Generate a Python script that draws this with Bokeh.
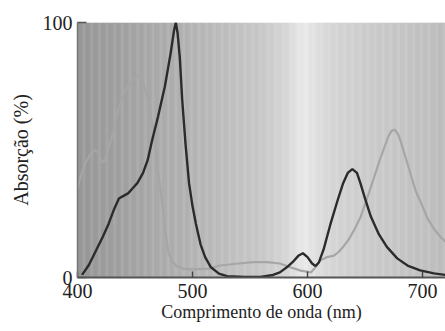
import numpy as np
from bokeh.plotting import figure
from bokeh.models import FixedTicker
from bokeh.embed import file_html
from bokeh.resources import INLINE

# ---- data ----
black_wl = [404, 410, 416, 422, 427, 432, 436, 440, 444, 448, 452, 457, 461, 465, 470, 476,
            481, 484, 485.5, 487, 489, 491, 494, 497, 500, 503, 507, 511, 516, 523, 530, 545,
            559, 570, 576, 582, 587, 592, 596, 600, 604, 607, 610, 614, 620, 626, 631, 635,
            639, 643, 646, 650, 655, 662, 669, 678, 687, 698, 710, 720]
black_abs = [1, 5, 10.5, 16, 21, 27, 31, 32, 33, 35, 37, 41, 46, 54, 63, 75,
             88, 97, 100, 96, 86, 70, 52, 37, 28, 21, 13, 8, 4, 1.5, 0.5, 0.2,
             0.2, 1, 2, 4, 6, 8.5, 9.5, 8, 5.5, 4.5, 6, 11, 21, 30, 37, 41,
             42.5, 41, 37, 31, 24, 17, 12, 7.5, 4.7, 2.8, 1.6, 1.0]

gray_wl = [400, 403, 407, 411, 415, 418, 421, 424, 428, 431, 435, 440, 445, 450, 453, 456,
           460, 463, 466, 468, 470, 472, 475, 477, 479, 482, 486, 492, 500, 514, 524, 540,
           553, 565, 576, 585, 594, 603, 607, 611, 617, 623, 627, 631, 636, 641, 646, 651,
           657, 662, 666, 670, 673, 676, 679, 682, 686, 690, 694, 699, 704, 710, 716, 720]
gray_abs = [35, 40, 45, 48, 50, 49, 45, 46, 52, 57, 65, 72, 76, 78.5, 79, 78,
            72, 65, 58, 50, 42, 35, 24, 16, 10, 6.5, 4.5, 3.5, 3.2, 3.5, 4.7, 5.5,
            6, 6, 5.5, 4, 2.7, 2, 4, 6.7, 8, 8.6, 10, 12, 15, 19, 23.5, 30,
            38, 45, 50, 55, 57.5, 58, 56, 52, 46, 40, 34, 29, 23.5, 19, 15.7, 14]

x_ticks = [400, 500, 600, 700]
y_ticks = [0, 100]

# ---- background gradient (decoration) ----
stop_wl = [400, 450, 490, 530, 560, 580, 592, 598, 606, 620, 650, 690, 720]
stop_lv = [150, 163, 176, 190, 200, 212, 228, 233, 224, 214, 204, 195, 188]

FONT = "Liberation Serif"

p = figure(width=445, height=331, x_range=(400, 720), y_range=(0, 100),
           output_backend="svg", toolbar_location=None,
           min_border_left=77, min_border_right=0, min_border_top=22, min_border_bottom=54)

edges = np.linspace(400, 720, 321)
mids = (edges[:-1] + edges[1:]) / 2
lv = np.interp(mids, stop_wl, stop_lv).astype(int)
cols = ["#%02x%02x%02x" % (v, v, v) for v in lv]
p.quad(left=edges[:-1], right=edges[1:] + 0.3, bottom=0, top=100, fill_color=cols, line_color=None)

p.line(gray_wl, gray_abs, line_color="#a6a6a6", line_width=2.2)
p.line(black_wl, black_abs, line_color="#2b2b2b", line_width=2.4)

p.grid.visible = False
p.outline_line_color = None
p.background_fill_color = "white"
p.border_fill_color = "white"

xa = p.xaxis[0]
xa.ticker = FixedTicker(ticks=x_ticks)
xa.axis_label = "Comprimento de onda (nm)"
xa.axis_label_text_font = FONT
xa.axis_label_text_font_size = "18px"
xa.axis_label_text_font_style = "normal"
xa.axis_label_text_color = "#222222"
xa.axis_label_standoff = 1
xa.major_label_text_font = FONT
xa.major_label_text_font_size = "20px"
xa.major_label_text_color = "#222222"
xa.major_label_standoff = 6
xa.major_tick_in = 6
xa.major_tick_out = 0
xa.major_tick_line_color = "#444444"
xa.major_tick_line_width = 1.5
xa.minor_tick_line_color = None
xa.axis_line_color = "#555555"
xa.axis_line_width = 2

ya = p.yaxis[0]
ya.ticker = FixedTicker(ticks=y_ticks)
ya.axis_label = "Absorção (%)"
ya.axis_label_text_font = FONT
ya.axis_label_text_font_size = "20px"
ya.axis_label_text_font_style = "normal"
ya.axis_label_text_color = "#222222"
ya.axis_label_standoff = 8
ya.major_label_text_font = FONT
ya.major_label_text_font_size = "20px"
ya.major_label_text_color = "#222222"
ya.major_label_standoff = 5
ya.major_tick_in = 9
ya.major_tick_out = 0
ya.major_tick_line_color = "#555555"
ya.major_tick_line_width = 1.5
ya.minor_tick_line_color = None
ya.axis_line_color = "#777777"
ya.axis_line_width = 1.5

open("out.html", "w").write(file_html(p, INLINE))
